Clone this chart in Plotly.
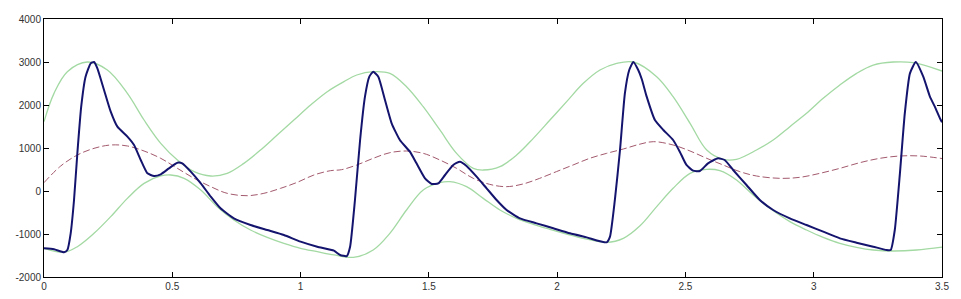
import plotly.graph_objects as go

# Blue signal
sig_x = [0, 0.039, 0.078, 0.091, 0.104, 0.117, 0.130, 0.145, 0.162, 0.182, 0.195, 0.208, 0.234, 0.260, 0.286,
         0.325, 0.351, 0.377, 0.403, 0.429, 0.455, 0.487, 0.520, 0.539, 0.572, 0.611, 0.650, 0.688, 0.740, 0.805,
         0.870, 0.935, 1.000, 1.065, 1.130, 1.154, 1.180, 1.193, 1.212, 1.232, 1.251, 1.268, 1.283, 1.303, 1.329,
         1.355, 1.387, 1.426, 1.452, 1.485, 1.511, 1.537, 1.563, 1.595, 1.621, 1.647, 1.686, 1.725, 1.764, 1.803,
         1.855, 1.920, 1.985, 2.050, 2.115, 2.193, 2.206, 2.225, 2.245, 2.264, 2.281, 2.297, 2.316, 2.330, 2.349,
         2.381, 2.414, 2.452, 2.478, 2.504, 2.530, 2.556, 2.588, 2.627, 2.653, 2.686, 2.738, 2.790, 2.842, 2.907,
         2.972, 3.037, 3.102, 3.167, 3.232, 3.284, 3.300, 3.316, 3.336, 3.355, 3.375, 3.398, 3.427, 3.453, 3.472,
         3.492, 3.5]
sig_y = [-1333, -1357, -1426, -1372, -984, -209, 876, 1961, 2659, 2969, 3000, 2853, 2349, 1845, 1496,
         1264, 1070, 721, 411, 349, 388, 527, 659, 643, 450, 178, -132, -403, -636, -791,
         -907, -1023, -1178, -1295, -1388, -1488, -1512, -1295, -209, 1186, 2194, 2659, 2775, 2659, 2116,
         1574, 1186, 915, 643, 295, 163, 178, 372, 605, 682, 581, 333, 62, -209, -442,
         -636, -752, -868, -984, -1078, -1194, -1062, -209, 953, 2271, 2814, 3000, 2814, 2600, 2194,
         1651, 1419, 1186, 915, 605, 473, 465, 643, 760, 721, 488, 140, -209, -442, -636,
         -791, -946, -1101, -1202, -1295, -1372, -1372, -907, 411, 1806, 2736, 3000, 2659, 2194, 1961,
         1690, 1600]

# Upper envelope
up_x = [0, 0.039, 0.091, 0.169, 0.247, 0.325, 0.390, 0.455, 0.520, 0.585, 0.650, 0.714, 0.779, 0.844, 0.909,
        0.974, 1.039, 1.104, 1.169, 1.219, 1.283, 1.348, 1.413, 1.478, 1.543, 1.608, 1.673, 1.712, 1.777, 1.842,
        1.907, 1.972, 2.037, 2.102, 2.167, 2.232, 2.297, 2.388, 2.452, 2.518, 2.583, 2.647, 2.699, 2.777, 2.842,
        2.907, 2.972, 3.037, 3.102, 3.167, 3.232, 3.310, 3.388, 3.5]
up_y = [1612, 2271, 2775, 3000, 2814, 2271, 1651, 1109, 721, 450, 349, 411, 643, 953, 1302,
        1651, 2000, 2310, 2543, 2698, 2775, 2736, 2426, 1961, 1419, 876, 527, 488, 566, 837,
        1225, 1651, 2078, 2504, 2814, 2969, 3000, 2659, 2194, 1574, 953, 736, 736, 953, 1186,
        1496, 1806, 2155, 2465, 2736, 2930, 3000, 2984, 2790]

# Lower envelope
lo_x = [0, 0.078, 0.130, 0.195, 0.260, 0.325, 0.390, 0.455, 0.494, 0.546, 0.611, 0.675, 0.740, 0.805, 0.870,
        0.935, 1.000, 1.065, 1.130, 1.206, 1.283, 1.348, 1.413, 1.478, 1.543, 1.582, 1.647, 1.712, 1.777, 1.842,
        1.907, 1.972, 2.037, 2.102, 2.193, 2.258, 2.323, 2.388, 2.452, 2.518, 2.583, 2.634, 2.699, 2.764, 2.829,
        2.907, 2.972, 3.037, 3.102, 3.167, 3.232, 3.310, 3.401, 3.5]
lo_y = [-1333, -1426, -1295, -984, -597, -171, 178, 349, 372, 295, 23, -364, -674, -907, -1078,
        -1217, -1333, -1411, -1488, -1543, -1372, -984, -442, 23, 194, 217, 101, -171, -442, -636,
        -775, -891, -1000, -1101, -1194, -1101, -810, -364, 62, 411, 504, 473, 256, -93, -403,
        -713, -907, -1078, -1217, -1310, -1372, -1395, -1372, -1305]

# Mean (dashed)
mn_x = [0, 0.065, 0.130, 0.195, 0.260, 0.325, 0.390, 0.455, 0.520, 0.585, 0.650, 0.714, 0.792, 0.857, 0.922,
        0.987, 1.052, 1.117, 1.160, 1.219, 1.283, 1.348, 1.413, 1.478, 1.543, 1.608, 1.673, 1.737, 1.802, 1.867,
        1.932, 1.997, 2.062, 2.127, 2.193, 2.258, 2.323, 2.375, 2.452, 2.518, 2.583, 2.647, 2.712, 2.777, 2.868,
        2.946, 3.024, 3.102, 3.180, 3.258, 3.336, 3.414, 3.5]
mn_y = [194, 581, 837, 992, 1070, 1047, 930, 760, 527, 295, 101, -54, -109, -54, 62,
        202, 372, 473, 496, 605, 760, 891, 930, 876, 721, 527, 295, 155, 101, 163,
        295, 450, 605, 760, 876, 977, 1090, 1147, 1070, 930, 760, 605, 450, 349, 295,
        318, 411, 527, 659, 760, 814, 814, 755]

fig = go.Figure()
fig.add_trace(go.Scatter(x=up_x, y=up_y, mode="lines", line=dict(color="#a3d9a3", width=1.3, shape="spline"), hoverinfo="skip"))
fig.add_trace(go.Scatter(x=lo_x, y=lo_y, mode="lines", line=dict(color="#a3d9a3", width=1.3, shape="spline"), hoverinfo="skip"))
fig.add_trace(go.Scatter(x=mn_x, y=mn_y, mode="lines", line=dict(color="#a35a6e", width=1, dash="7px,3px", shape="spline"), hoverinfo="skip"))
fig.add_trace(go.Scatter(x=sig_x, y=sig_y, mode="lines", line=dict(color="#14146e", width=2, shape="spline", smoothing=0.5), hoverinfo="skip"))

axis_common = dict(
    showline=True, linecolor="black", linewidth=1, mirror="ticks",
    ticks="inside", ticklen=5, tickcolor="black", showgrid=False, zeroline=False,
    automargin=False,
    tickfont=dict(family="Liberation Sans, Arial", size=10, color="#333333"),
)
fig.update_xaxes(range=[0, 3.5], tickvals=[0, 0.5, 1, 1.5, 2, 2.5, 3, 3.5],
                 ticktext=["0", "0.5", "1", "1.5", "2", "2.5", "3", "3.5"], **axis_common)
fig.update_yaxes(range=[-2000, 4000], tickvals=[-2000, -1000, 0, 1000, 2000, 3000, 4000],
                 ticktext=["-2000", "-1000", "0", "1000", "2000", "3000", "4000"], **axis_common)
fig.update_layout(width=961, height=299, margin=dict(l=44, r=19, t=19, b=22),
                  plot_bgcolor="white", paper_bgcolor="white", showlegend=False)
fig.write_html("out.html", config={"displayModeBar": False},
               post_script="document.body.style.margin='0';document.body.style.overflow='hidden';")
